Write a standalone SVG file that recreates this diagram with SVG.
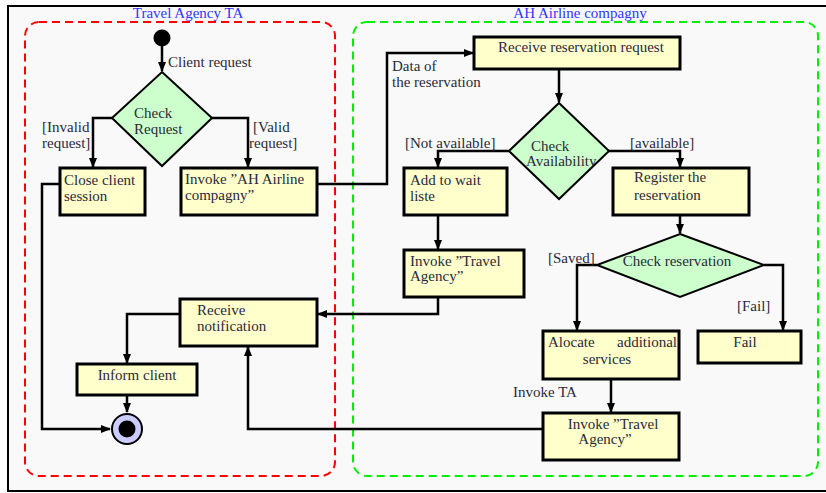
<svg xmlns="http://www.w3.org/2000/svg" width="826" height="493" viewBox="0 0 826 493">
<style>
text{font-family:"Liberation Serif","DejaVu Serif",serif;font-size:15px;fill:#2a2a3a}
.title{fill:#3333ff;font-size:15px}
.box{fill:#ffffcc;stroke:#000;stroke-width:3}
.dia{fill:#ccffcc;stroke:#000;stroke-width:2}
.c{fill:none;stroke:#000;stroke-width:2.5;stroke-linejoin:miter}
</style>
<defs>
<marker id="ah" viewBox="0 0 10 10" refX="9" refY="5" markerWidth="4" markerHeight="4" orient="auto" markerUnits="strokeWidth">
<path d="M0,1 L10,5 L0,9 Z" fill="#000"/>
</marker>
</defs>
<rect x="0" y="0" width="826" height="493" fill="#fff"/>
<rect x="8" y="6" width="830" height="485" fill="#f9f9f9" stroke="#000" stroke-width="2"/>
<g id="lane-ta">
<rect x="25" y="22" width="310" height="454" rx="14" fill="none" stroke="#ff0000" stroke-width="2" stroke-dasharray="8,5"/>
<text class="title" x="188" y="18" text-anchor="middle">Travel Agency TA</text>
</g>
<g id="lane-ah">
<rect x="353" y="22" width="465" height="454" rx="14" fill="none" stroke="#00ee00" stroke-width="2" stroke-dasharray="8,5"/>
<text class="title" x="580" y="18" text-anchor="middle">AH Airline compagny</text>
</g>
<g id="connectors">
<path class="c" d="M162,46 V71" marker-end="url(#ah)"/>
<path class="c" d="M112,118 H93 V167" marker-end="url(#ah)"/>
<path class="c" d="M212,118 H248 V167" marker-end="url(#ah)"/>
<path class="c" d="M317,184 H387 V53 H473" marker-end="url(#ah)"/>
<path class="c" d="M559,69 V102" marker-end="url(#ah)"/>
<path class="c" d="M509,151 H438 V167" marker-end="url(#ah)"/>
<path class="c" d="M609,151 H680 V167" marker-end="url(#ah)"/>
<path class="c" d="M438,215 V249" marker-end="url(#ah)"/>
<path class="c" d="M438,297 V314 H318" marker-end="url(#ah)"/>
<path class="c" d="M680,215 V233" marker-end="url(#ah)"/>
<path class="c" d="M597,265 H577 V330" marker-end="url(#ah)"/>
<path class="c" d="M764,265 H783 V330" marker-end="url(#ah)"/>
<path class="c" d="M611,379 V412" marker-end="url(#ah)"/>
<path class="c" d="M543,429 H248 V347" marker-end="url(#ah)"/>
<path class="c" d="M180,314 H127 V363" marker-end="url(#ah)"/>
<path class="c" d="M127,395 V412" marker-end="url(#ah)"/>
<path class="c" d="M60,184 H42 V429 H110" marker-end="url(#ah)"/>
<text x="168" y="67">Client request</text>
<text x="42" y="132">[Invalid</text>
<text x="42" y="148">request]</text>
<text x="253" y="132">[Valid</text>
<text x="249" y="148">request]</text>
<text x="392" y="71">Data of</text>
<text x="392" y="87">the reservation</text>
<text x="405" y="148">[Not available]</text>
<text x="630" y="148">[available]</text>
<text x="548" y="263">[Saved]</text>
<text x="737" y="311">[Fail]</text>
<text x="513" y="397">Invoke TA</text>
</g>
<g id="start">
<circle cx="162" cy="38" r="8.5" fill="#000"/>
</g>
<g id="check-request">
<polygon class="dia" points="162,72 212,118 162,166 112,118"/>
<text x="134" y="118">Check</text>
<text x="134" y="134">Request</text>
</g>
<g id="close-session">
<rect class="box" x="60" y="168" width="85" height="47"/>
<text x="64" y="185">Close client</text>
<text x="64" y="201">session</text>
</g>
<g id="invoke-ah">
<rect class="box" x="181" y="168" width="136" height="47"/>
<text x="185" y="184">Invoke ”AH Airline</text>
<text x="185" y="200">compagny”</text>
</g>
<g id="receive-reservation">
<rect class="box" x="474" y="37" width="206" height="32"/>
<text x="581" y="52" text-anchor="middle">Receive reservation request</text>
</g>
<g id="check-availability">
<polygon class="dia" points="559,103 609,151 559,199 509,151"/>
<text x="531" y="151">Check</text>
<text x="526" y="166">Availability</text>
</g>
<g id="wait-list">
<rect class="box" x="404" y="168" width="103" height="47"/>
<text x="410" y="185">Add to wait</text>
<text x="410" y="201">liste</text>
</g>
<g id="register">
<rect class="box" x="613" y="168" width="136" height="47"/>
<text x="634" y="182">Register the</text>
<text x="634" y="200">reservation</text>
</g>
<g id="invoke-ta-1">
<rect class="box" x="404" y="250" width="120" height="47"/>
<text x="410" y="266">Invoke ”Travel</text>
<text x="410" y="281">Agency”</text>
</g>
<g id="check-reservation">
<polygon class="dia" points="680,234 764,265 680,297 597,265"/>
<text x="677" y="266" text-anchor="middle">Check reservation</text>
</g>
<g id="allocate">
<rect class="box" x="543" y="331" width="136" height="48"/>
<text x="548" y="347">Alocate</text>
<text x="677" y="347" text-anchor="end">additional</text>
<text x="607" y="364" text-anchor="middle">services</text>
</g>
<g id="fail">
<rect class="box" x="698" y="331" width="103" height="32"/>
<text x="745" y="347" text-anchor="middle">Fail</text>
</g>
<g id="invoke-ta-2">
<rect class="box" x="543" y="413" width="136" height="47"/>
<text x="613" y="429" text-anchor="middle">Invoke ”Travel</text>
<text x="605" y="444" text-anchor="middle">Agency”</text>
</g>
<g id="receive-notification">
<rect class="box" x="180" y="299" width="137" height="47"/>
<text x="197" y="315">Receive</text>
<text x="197" y="331">notification</text>
</g>
<g id="inform-client">
<rect class="box" x="77" y="364" width="120" height="31"/>
<text x="137" y="380" text-anchor="middle">Inform client</text>
</g>
<g id="end">
<circle cx="127" cy="429" r="15" fill="#ccccff" stroke="#000" stroke-width="2"/>
<circle cx="127" cy="429" r="8.5" fill="#000"/>
</g>
</svg>
